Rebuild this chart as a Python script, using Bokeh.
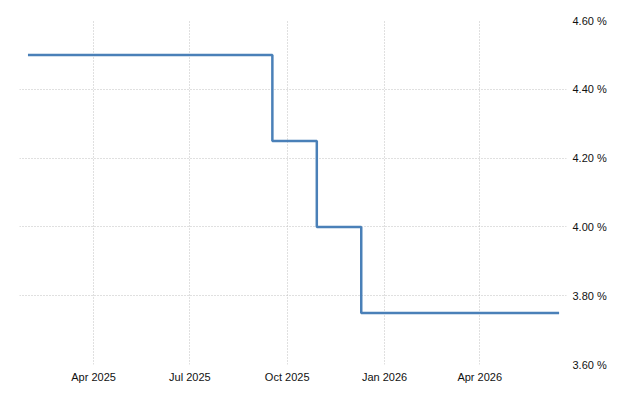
import datetime as dt
from bokeh.plotting import figure
from bokeh.models import FixedTicker, DatetimeTickFormatter, PrintfTickFormatter, LinearAxis, Range1d, Grid
from bokeh.embed import file_html
from bokeh.resources import INLINE

# Data
change_dates = ["2025-01-29", "2025-09-17", "2025-10-29", "2025-12-10", "2026-06-15"]
rates = [4.50, 4.25, 4.00, 3.75, 3.75]
x_tick_dates = ["2025-04-01", "2025-07-01", "2025-10-01", "2026-01-01", "2026-04-01"]
y_ticks = [3.60, 3.80, 4.00, 4.20, 4.40, 4.60]

def to_dt(s):
    return dt.datetime.strptime(s, "%Y-%m-%d")

def to_ms(s):
    return (to_dt(s) - dt.datetime(1970, 1, 1)).total_seconds() * 1000.0

xs = [to_dt(d) for d in change_dates]

p = figure(width=624, height=392, x_axis_type="datetime", output_backend="svg",
           toolbar_location=None, y_axis_location=None,
           x_range=Range1d(to_dt("2025-01-21"), to_dt("2026-06-22")),
           y_range=Range1d(3.60, 4.60),
           min_border_left=19, min_border_right=58, min_border_top=20, min_border_bottom=28)
p.outline_line_color = None
p.background_fill_color = "white"

yaxis = LinearAxis(ticker=FixedTicker(ticks=y_ticks),
                   formatter=PrintfTickFormatter(format="%.2f %%"))
p.add_layout(yaxis, "right")

for ax in [p.xaxis[0], yaxis]:
    ax.axis_line_color = None
    ax.major_tick_line_color = None
    ax.minor_tick_line_color = None
    ax.major_tick_out = 0
    ax.major_tick_in = 0
    ax.minor_tick_out = 0
    ax.major_label_text_font = "Liberation Sans"
    ax.major_label_text_font_size = "11px"
    ax.major_label_text_color = "#111111"

p.xaxis[0].ticker = FixedTicker(ticks=[to_ms(d) for d in x_tick_dates])
p.xaxis[0].formatter = DatetimeTickFormatter(months="%b %Y", days="%b %Y", years="%b %Y")
p.xaxis[0].major_label_standoff = 6
yaxis.major_label_standoff = 6

p.xgrid.ticker = p.xaxis[0].ticker
p.xgrid.grid_line_color = "#c0c0c0"
p.xgrid.grid_line_dash = "1 2"
p.xgrid.grid_line_width = 1

p.ygrid.grid_line_color = None
hgrid = Grid(dimension=1, ticker=yaxis.ticker, grid_line_color="#c0c0c0",
             grid_line_dash="1 2", grid_line_width=1)
p.add_layout(hgrid)

p.step(xs, rates, mode="after", line_color="#4a80b8", line_width=2.5)

open("out.html", "w").write(file_html(p, INLINE))
